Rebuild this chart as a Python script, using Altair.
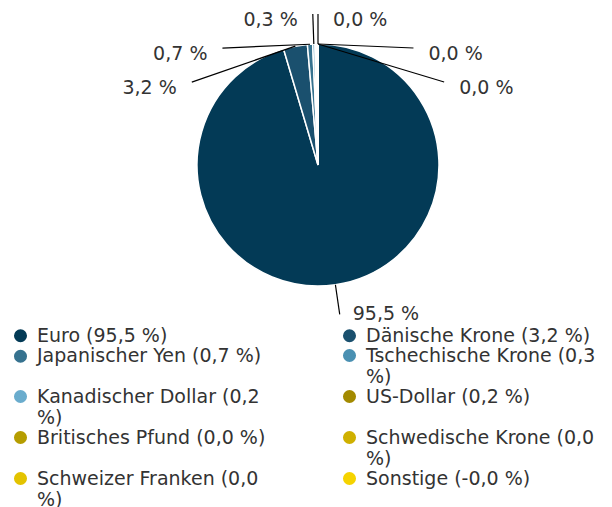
import math
import numpy as np
import pandas as pd
import altair as alt

# ---- data ----
currencies = ["Euro", "Dänische Krone", "Japanischer Yen", "Tschechische Krone",
              "Kanadischer Dollar", "US-Dollar", "Britisches Pfund",
              "Schwedische Krone", "Schweizer Franken", "Sonstige"]
shares = [95.5, 3.2, 0.7, 0.3, 0.2, 0.2, 0.0, 0.0, 0.0, -0.0]
colors = ["#033a56", "#1a506e", "#36728f", "#4a90b2", "#6aaccd",
          "#a38a00", "#b59d00", "#cfb000", "#e3c300", "#f5d300"]
# slices whose outside label is drawn in the reference
labelled = [True, True, True, True, False, False, True, True, True, False]

FONT = "DejaVu Sans"
FS = 19
TXT = "#333333"
W, H = 612, 507
CX, CY, R = 318, 165, 121      # pie layout
R_LAB = 151                    # radius on which the label connectors end
STEP = 34                      # minimum vertical spacing between labels


def fmt(v):
    return f"{v:.1f}".replace(".", ",")


df = pd.DataFrame({
    "idx": range(len(currencies)),
    "name": currencies,
    "share": shares,
    "fill": colors,
})
df["theta"] = df["share"].clip(lower=0)
df["legend"] = [f"{n} ({fmt(v)} %)" for n, v in zip(currencies, shares)]
df["label"] = [f"{fmt(v)} %" for v in shares]

# legend is read row by row (two columns); Vega fills its grid column by column
leg_order = list(range(0, len(df), 2)) + list(range(1, len(df), 2))
leg_domain = [df["legend"][i] for i in leg_order]
leg_range = [df["fill"][i] for i in leg_order]

# ---- outside label layout derived from the slice angles ----
tot = df["theta"].sum()
start = df["theta"].cumsum() - df["theta"]
mid = (start + df["theta"] / 2) / tot * 360.0
mid = ((mid + 180.0) % 360.0) - 180.0
df["mid"] = mid
df["x1"] = CX + R * np.sin(np.radians(mid))
df["y1"] = CY - R * np.cos(np.radians(mid))
df["ty"] = CY - R_LAB * np.cos(np.radians(mid))

lab = df[labelled].copy()
lab["side"] = np.where(lab["mid"] >= 0, 1, -1)
parts = []
for side, g in lab.groupby("side"):
    g = g.sort_values(["ty", "mid"], ascending=[True, side < 0]).copy()
    ys = []
    for t in g["ty"]:
        ys.append(t if not ys else max(t, ys[-1] + STEP))
    g["y2"] = ys
    ys = np.array(ys)
    dy = ys - CY
    g["x2"] = CX + side * np.sqrt(np.clip(R_LAB ** 2 - dy ** 2, 0, None))
    upper = ys < CY
    g["lx"] = g["x2"] + side * np.where(upper, 15, 13)
    g["ly"] = g["y2"] + np.where(upper, 6, 0)
    parts.append(g)
lab = pd.concat(parts)

px = alt.Scale(domain=[0, W], range=[0, W])
py = alt.Scale(domain=[0, H], range=[0, H])

label_expr = ("length(datum.label) > 24 ? "
              "[substring(datum.label, 0, length(datum.label) - 3), '%)'] : datum.label")

pie = alt.Chart(df).mark_arc(outerRadius=R, stroke="white", strokeWidth=1.5).encode(
    theta=alt.Theta("theta:Q", stack=True),
    order=alt.Order("idx:Q"),
    color=alt.Color(
        "legend:N",
        sort=leg_domain,
        scale=alt.Scale(domain=leg_domain, range=leg_range),
        legend=alt.Legend(
            orient="none", legendX=11, legendY=326, columns=2, title=None,
            symbolType="circle", symbolSize=170, symbolStrokeWidth=0,
            symbolOpacity=1, labelFont=FONT, labelFontSize=FS, labelColor=TXT,
            labelOffset=7, labelLimit=400, rowPadding=0, columnPadding=74,
            labelExpr=label_expr,
        ),
    ),
    x=alt.value(CX),
    y=alt.value(CY),
)

lines = alt.Chart(lab).mark_rule(color="#000000", strokeWidth=1.2).encode(
    x=alt.X("x1:Q", scale=px, axis=None),
    y=alt.Y("y1:Q", scale=py, axis=None),
    x2="x2:Q",
    y2="y2:Q",
)

texts_r = alt.Chart(lab[lab["side"] > 0]).mark_text(
    align="left", baseline="middle", font=FONT, fontSize=FS, color=TXT
).encode(
    x=alt.X("lx:Q", scale=px, axis=None),
    y=alt.Y("ly:Q", scale=py, axis=None),
    text="label:N",
)
texts_l = alt.Chart(lab[lab["side"] < 0]).mark_text(
    align="right", baseline="middle", font=FONT, fontSize=FS, color=TXT
).encode(
    x=alt.X("lx:Q", scale=px, axis=None),
    y=alt.Y("ly:Q", scale=py, axis=None),
    text="label:N",
)

chart = alt.layer(pie, lines, texts_r, texts_l).properties(
    width=W, height=H, padding=0, autosize=alt.AutoSizeParams(type="none"),
    background="white",
).configure_view(stroke=None)

chart.save("out.html", embed_options={"renderer": "svg", "actions": False})
